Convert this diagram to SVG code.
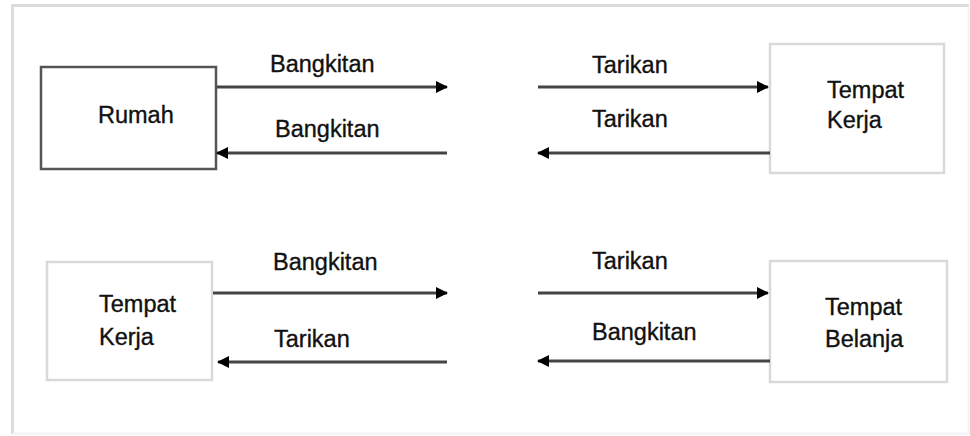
<svg xmlns="http://www.w3.org/2000/svg" width="970" height="436" viewBox="0 0 970 436">
<defs>
<style>
text{font-family:"Liberation Sans",Arial,sans-serif;font-size:23.5px;fill:#111;stroke:#111;stroke-width:0.35}
.ln{stroke:#444;stroke-width:3;fill:none}
.box{fill:#fff;stroke:#d9d9d9;stroke-width:2.5}
.dark{stroke:#555}
</style>
<marker id="ah" viewBox="0 0 12 12" refX="11" refY="6" markerWidth="12" markerHeight="12" markerUnits="userSpaceOnUse" orient="auto">
<path d="M0,0 L12,6 L0,12 Z" fill="#000"/>
</marker>
</defs>
<rect x="0" y="0" width="970" height="436" fill="#fff"/>
<path d="M12.5,434 V5.5 H969" fill="none" stroke="#dcdcdc" stroke-width="3"/>
<path d="M12.5,433.5 H968.5 V5.5" fill="none" stroke="#f3f3f3" stroke-width="2"/>
<g id="rumah">
<rect class="box dark" x="41" y="67" width="175" height="102"/>
<text x="98" y="123">Rumah</text>
</g>
<g id="tempat-kerja-1">
<rect class="box" x="770" y="44" width="174" height="129"/>
<text x="827" y="98">Tempat</text>
<text x="827" y="128">Kerja</text>
</g>
<g id="tempat-kerja-2">
<rect class="box" x="47" y="262" width="165" height="118"/>
<text x="99" y="312">Tempat</text>
<text x="99" y="345">Kerja</text>
</g>
<g id="tempat-belanja">
<rect class="box" x="770" y="261" width="177" height="121"/>
<text x="825" y="315">Tempat</text>
<text x="825" y="347">Belanja</text>
</g>
<g id="connectors">
<line class="ln" x1="217" y1="87" x2="447" y2="87" marker-end="url(#ah)"/>
<line class="ln" x1="447" y1="153" x2="217" y2="153" marker-end="url(#ah)"/>
<line class="ln" x1="538" y1="87" x2="768" y2="87" marker-end="url(#ah)"/>
<line class="ln" x1="770" y1="153" x2="538" y2="153" marker-end="url(#ah)"/>
<line class="ln" x1="213" y1="293" x2="447" y2="293" marker-end="url(#ah)"/>
<line class="ln" x1="447" y1="362" x2="218" y2="362" marker-end="url(#ah)"/>
<line class="ln" x1="538" y1="293" x2="768" y2="293" marker-end="url(#ah)"/>
<line class="ln" x1="770" y1="361" x2="538" y2="361" marker-end="url(#ah)"/>
<text x="270" y="72">Bangkitan</text>
<text x="275" y="137">Bangkitan</text>
<text x="592" y="73">Tarikan</text>
<text x="592" y="127">Tarikan</text>
<text x="273" y="270">Bangkitan</text>
<text x="274" y="347">Tarikan</text>
<text x="592" y="269">Tarikan</text>
<text x="592" y="340">Bangkitan</text>
</g>
</svg>
